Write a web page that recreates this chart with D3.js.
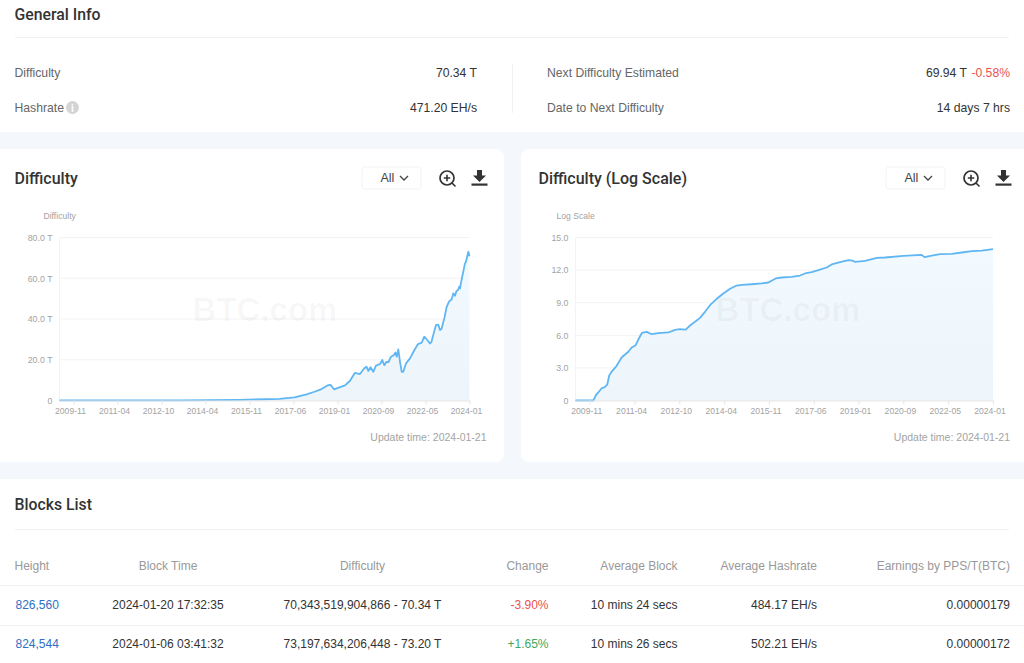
<!DOCTYPE html>
<html>
<head>
<meta charset="utf-8">
<script src="https://cdn.jsdelivr.net/npm/d3@7"></script>
<style>
html, body { margin: 0; padding: 0; background: #f4f7fc; overflow: hidden; }
svg { display: block; font-family: "Liberation Sans", Arial, sans-serif; }
</style>
</head>
<body>
<svg id="page" width="1024" height="663"></svg>
<script>
// x position is the difficulty epoch number (one every 2016 blocks)
const tickEpochs = [14, 58, 102, 146, 190, 234, 278, 322, 366, 410];
const tickLabels = ["2009-11", "2011-04", "2012-10", "2014-04", "2015-11", "2017-06", "2019-01", "2020-09", "2022-05", "2024-01"];

const diffEpochs = [0, 120, 180, 220, 235, 247, 255, 262, 268, 271, 274.5, 285.5, 290.5, 295.5, 300.5, 304.8, 307, 308.8, 311, 313.8, 316.5, 320.5, 322.8, 324.8, 327, 329, 331.5, 334.5, 336, 337.2, 338.8, 340.5, 342.2, 343.8, 346.5, 350.5, 354.5, 358.5, 362.2, 364.8, 367.8, 370.5, 372, 373.8, 376.5, 378.8, 380.5, 382, 384.8, 387.2, 389.5, 392.2, 393.8, 395.5, 397, 398.5, 399.8, 400.5, 402, 405.5, 406.5, 408.8, 410];
const diffValues = [0.1, 0.1, 0.3, 0.8, 1.5, 3, 4.3, 5.6, 7.4, 7.7, 5.5, 7.4, 9.7, 13.6, 13, 15.8, 16.6, 14.5, 16.3, 14.1, 17.1, 17.9, 19.9, 17.3, 19, 18.9, 21.5, 22.3, 23.6, 21.5, 25.1, 19, 14.1, 14.1, 18.2, 20.7, 24.4, 27.7, 28.4, 31.3, 29.7, 28, 28.8, 32.2, 37, 37.2, 34.6, 35.1, 40.3, 46, 48.5, 49.7, 52.6, 51.4, 53.7, 54.2, 55.9, 55, 59.1, 67.3, 68.1, 73, 70.8];
const diffTicks = [0, 20, 40, 60, 80];

const logEpochs = [0, 17.5, 20.1, 22.4, 25.7, 28.3, 31.2, 33.2, 36.2, 40.4, 45.3, 48.6, 51.9, 55.2, 59.1, 61.7, 65.3, 69.9, 74.8, 81.4, 91.2, 97.7, 102.6, 108.2, 112.5, 117.4, 122.3, 127.2, 132.1, 138.7, 145.2, 151.8, 158.3, 163.2, 173, 182.9, 189.4, 196.6, 202.5, 212.3, 220.5, 225.4, 232, 238.5, 246.7, 251.6, 259.8, 268, 271.9, 274.6, 284.4, 295.9, 304, 322, 340, 342.7, 349.9, 358, 369.6, 379.4, 389.2, 399, 410];
const logValues = [0, 0, 0.49, 0.74, 1.13, 1.2, 1.47, 2.33, 2.73, 3.19, 3.96, 4.23, 4.48, 4.88, 5.09, 5.61, 6.23, 6.32, 6.1, 6.2, 6.26, 6.5, 6.56, 6.53, 6.9, 7.24, 7.6, 8.16, 8.77, 9.36, 9.85, 10.28, 10.58, 10.64, 10.7, 10.77, 10.86, 11.23, 11.32, 11.38, 11.5, 11.69, 11.81, 11.99, 12.24, 12.52, 12.73, 12.91, 12.88, 12.76, 12.85, 13.13, 13.16, 13.31, 13.4, 13.19, 13.34, 13.47, 13.5, 13.62, 13.74, 13.8, 13.93];
const logTicks = [0, 3, 6, 9, 12, 15];

const infoLeft = [["Difficulty", "70.34 T"], ["Hashrate", "471.20 EH/s"]];
const infoRight = [["Next Difficulty Estimated", "69.94 T"], ["Date to Next Difficulty", "14 days 7 hrs"]];

const tableHeader = ["Height", "Block Time", "Difficulty", "Change", "Average Block", "Average Hashrate", "Earnings by PPS/T(BTC)"];
const tableRows = [
  ["826,560", "2024-01-20 17:32:35", "70,343,519,904,866 - 70.34 T", "-3.90%", "10 mins 24 secs", "484.17 EH/s", "0.00000179"],
  ["824,544", "2024-01-06 03:41:32", "73,197,634,206,448 - 73.20 T", "+1.65%", "10 mins 26 secs", "502.21 EH/s", "0.00000172"]
];

const svg = d3.select("#page");

const defs = svg.append("defs");
const grad = defs.append("linearGradient").attr("id", "areaFill")
  .attr("x1", 0).attr("y1", 0).attr("x2", 0).attr("y2", 1);
grad.append("stop").attr("offset", "0%").attr("stop-color", "#f3faff");
grad.append("stop").attr("offset", "100%").attr("stop-color", "#edf5fa");

function label(g, x, y, str, size, color, anchor = "start", weight = "normal") {
  return g.append("text")
    .attr("x", x).attr("y", y)
    .attr("font-size", size)
    .attr("fill", color)
    .attr("text-anchor", anchor)
    .attr("font-weight", weight)
    .text(str);
}

function heading(g, x, y, str, size = 15.8) {
  return label(g, x, y, str, size, "#333", "start", 500).attr("font-family", "Roboto");
}

function card(x, y, w, h, r = 8) {
  svg.append("rect").attr("x", x).attr("y", y).attr("width", w).attr("height", h).attr("rx", r).attr("fill", "#fff");
}

// General info
card(-10, -10, 1044, 142);
heading(svg, 14.5, 20, "General Info");
svg.append("line").attr("x1", 15).attr("x2", 1009).attr("y1", 37.5).attr("y2", 37.5).attr("stroke", "#f1f1f1");
svg.append("line").attr("x1", 512.5).attr("x2", 512.5).attr("y1", 64).attr("y2", 113).attr("stroke", "#f1f1f1");

const rowY = [77, 112];
infoLeft.forEach((d, i) => {
  label(svg, 14.5, rowY[i], d[0], 12.2, "#666");
  label(svg, 477, rowY[i], d[1], 12.2, "#333", "end");
});
infoRight.forEach((d, i) => {
  label(svg, 547, rowY[i], d[0], 12.2, "#666");
  if (i === 0) {
    label(svg, 1010, rowY[i], "-0.58%", 12.2, "#e8544f", "end");
    label(svg, 967, rowY[i], d[1], 12.2, "#333", "end");
  } else {
    label(svg, 1010, rowY[i], d[1], 12.2, "#333", "end");
  }
});
svg.append("circle").attr("cx", 72.5).attr("cy", 107.5).attr("r", 6.5).attr("fill", "#d4d4d4");
label(svg, 72.5, 111.5, "i", 10, "#fff", "middle", "bold");

// one chart panel
function drawChart(o) {
  card(o.cardX, 149, o.cardW, 313);
  const g = svg.append("g");

  heading(g, o.titleX, 184, o.title, 16);

  // range selector
  g.append("rect").attr("x", o.selectX).attr("y", 167).attr("width", 59).attr("height", 22).attr("rx", 3)
    .attr("fill", "#fff").attr("stroke", "#f3f3f3");
  label(g, o.selectX + 18.5, 182, "All", 12.5, "#444");
  g.append("path").attr("d", `M${o.selectX + 38},176 l4,4 l4,-4`).attr("fill", "none").attr("stroke", "#444").attr("stroke-width", 1.3);

  // zoom icon
  const zx = o.selectX + 85;
  g.append("circle").attr("cx", zx).attr("cy", 178).attr("r", 7).attr("fill", "none").attr("stroke", "#333").attr("stroke-width", 1.7);
  g.append("path").attr("d", `M${zx - 3.2},178 h6.4 M${zx},174.8 v6.4 M${zx + 5},183 l3.5,3.5`).attr("fill", "none").attr("stroke", "#333").attr("stroke-width", 1.6);

  // download icon
  const dx = o.selectX + 117.5;
  g.append("path").attr("d", `M${dx - 2.5},170 h5 v5.5 h4 l-6.5,6.5 l-6.5,-6.5 h4 z`).attr("fill", "#333");
  g.append("rect").attr("x", dx - 8).attr("y", 183.5).attr("width", 16).attr("height", 2.2).attr("fill", "#333");

  label(g, o.unitX, 219, o.unit, 8.6, "#a3a3a3");

  const x = d3.scaleLinear().domain([0, 410]).range(o.xRange);
  const y = d3.scaleLinear().domain(o.yDomain).range([400.5, 237.5]);

  // grid
  g.append("g").selectAll("line").data(o.yTicks).join("line")
    .attr("x1", o.xRange[0]).attr("x2", o.xRange[1])
    .attr("y1", d => y(d)).attr("y2", d => y(d))
    .attr("stroke", "#f3f3f3");
  g.append("line").attr("x1", o.xRange[0]).attr("x2", o.xRange[0]).attr("y1", 237.5).attr("y2", 400.5).attr("stroke", "#f3f3f3");

  const pts = o.epochs.map((e, i) => [e, o.values[i]]);
  g.append("path").datum(pts)
    .attr("fill", "url(#areaFill)")
    .attr("d", d3.area().x(d => x(d[0])).y0(y(0)).y1(d => y(d[1])));

  // watermark sits over the area, only a faint tint
  label(g, o.waterX, 320.5, "BTC.com", 33, "#000", "middle", "bold").attr("fill-opacity", 0.035);

  g.append("path").datum(pts)
    .attr("fill", "none")
    .attr("stroke", "#5fb6f3")
    .attr("stroke-width", 1.8)
    .attr("stroke-linejoin", "round")
    .attr("d", d3.line().x(d => x(d[0])).y(d => y(d[1])));

  // axes
  const xAxis = g.append("g").attr("transform", "translate(0,400.5)")
    .call(d3.axisBottom(x).tickValues(tickEpochs).tickFormat((d, i) => tickLabels[i]).tickSize(4).tickSizeOuter(0));
  xAxis.select(".domain").attr("stroke", "#e6e6e6");
  xAxis.selectAll("line").attr("stroke", "#e6e6e6");
  xAxis.selectAll("text")
    .attr("x", -3.5).attr("y", 7.5)
    .attr("font-family", "inherit").attr("font-size", 8.6).attr("fill", "#a3a3a3");

  const yAxis = g.append("g").attr("transform", `translate(${o.xRange[0]},0)`)
    .call(d3.axisLeft(y).tickValues(o.yTicks).tickFormat(o.yFormat).tickSize(0));
  yAxis.select(".domain").remove();
  yAxis.selectAll("text")
    .attr("x", -7).attr("font-family", "inherit").attr("font-size", 8.8).attr("fill", "#a3a3a3");

  label(g, o.updateX, 441, "Update time: 2024-01-21", 10.5, "#a3a3a3", "end");
}

drawChart({
  cardX: -10, cardW: 514, titleX: 14.5, title: "Difficulty", selectX: 362, unit: "Difficulty", unitX: 43.5,
  xRange: [59.5, 469.5], yDomain: [0, 80], yTicks: diffTicks,
  yFormat: d => d === 0 ? "0" : d.toFixed(1) + " T",
  epochs: diffEpochs, values: diffValues, waterX: 265, updateX: 486.5
});
drawChart({
  cardX: 521, cardW: 513, titleX: 538.5, title: "Difficulty (Log Scale)", selectX: 886, unit: "Log Scale", unitX: 556.5,
  xRange: [575.5, 993], yDomain: [0, 15], yTicks: logTicks,
  yFormat: d => d === 0 ? "0" : d.toFixed(1),
  epochs: logEpochs, values: logValues, waterX: 788, updateX: 1010
});

// Blocks list
card(-10, 479, 1044, 200);
heading(svg, 14.5, 510, "Blocks List");
svg.append("line").attr("x1", 15).attr("x2", 1009).attr("y1", 529.5).attr("y2", 529.5).attr("stroke", "#f1f1f1");

const colX = [14.5, 168, 362.5, 548.5, 677.5, 817, 1010];
const colAnchor = ["start", "middle", "middle", "end", "end", "end", "end"];

tableHeader.forEach((h, c) => label(svg, colX[c], 570, h, 12, "#999", colAnchor[c]));
svg.append("line").attr("x1", 0).attr("x2", 1024).attr("y1", 585.5).attr("y2", 585.5).attr("stroke", "#f3f3f3");
svg.append("line").attr("x1", 0).attr("x2", 1024).attr("y1", 625.5).attr("y2", 625.5).attr("stroke", "#f3f3f3");

const tableY = [609, 648];
tableRows.forEach((r, i) => {
  r.forEach((v, c) => {
    let color = "#333";
    if (c === 0) color = "#2f6fc4";
    if (c === 3) color = v[0] === "-" ? "#e8544f" : "#41a861";
    label(svg, c === 0 ? 15.5 : colX[c], tableY[i], v, 12, color, colAnchor[c]);
  });
});
</script>
</body>
</html>
